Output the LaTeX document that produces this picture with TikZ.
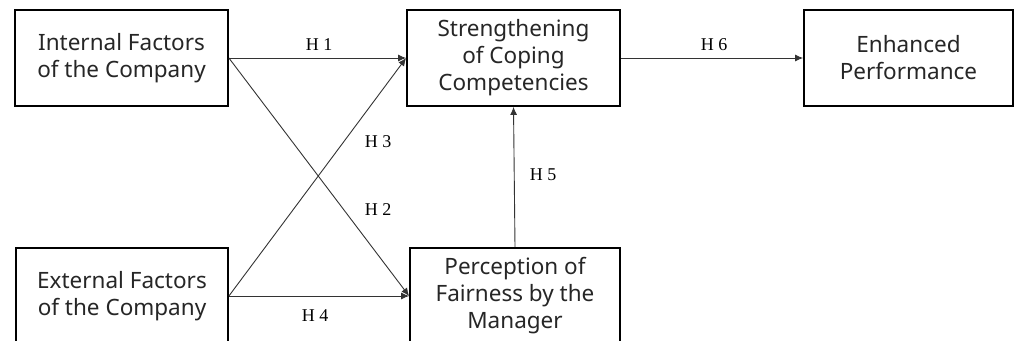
\documentclass[tikz,border=0pt]{standalone}
\usepackage{fontspec}
\setmainfont{Noto Sans}
\newfontfamily\labelfont{Liberation Serif}
\usetikzlibrary{arrows.meta}
\begin{document}
\begin{tikzpicture}[x=1pt,y=-1pt,
  box/.style={draw=black,line width=1.8pt,minimum height=96pt,inner sep=0pt,
    align=center,text=black!85,font=\fontsize{22.5}{27}\selectfont},
  link/.style={draw=black!80,line width=0.9pt,-{Latex[length=8pt,width=7pt]}},
  hyp/.style={font=\labelfont\fontsize{18}{20}\selectfont,text=black}]
\useasboundingbox (0,0) rectangle (1016,340);
% constructs
\node[box,minimum width=213pt] (internal) at (121.5,58) {Internal Factors\\of the Company};
\node[box,minimum width=213pt] (coping) at (513.5,58) {Strengthening\\of Coping\\Competencies};
\node[box,minimum width=209pt] (perf) at (908.5,58) {Enhanced\\Performance};
\node[box,minimum width=212pt] (external) at (122,296) {External Factors\\of the Company};
\node[box,minimum width=210pt] (fair) at (515,296) {Perception of\\Fairness by the\\Manager};
% hypothesised paths
\draw[link] (internal.east) -- (coping.west);
\draw[link] (internal.east) -- (fair.west);
\draw[link] (external.east) -- (coping.west);
\draw[link] (external.east) -- (fair.west);
\draw[link] (fair.north) -- (coping.south);
\draw[link] (coping.east) -- (perf.west);
% path labels
\node[hyp] (h1) at (319,45) {H 1};
\node[hyp] (h2) at (378,210) {H 2};
\node[hyp] (h3) at (378,142) {H 3};
\node[hyp] (h4) at (315,316) {H 4};
\node[hyp] (h5) at (543,175) {H 5};
\node[hyp] (h6) at (714,45) {H 6};
\end{tikzpicture}
\end{document}
